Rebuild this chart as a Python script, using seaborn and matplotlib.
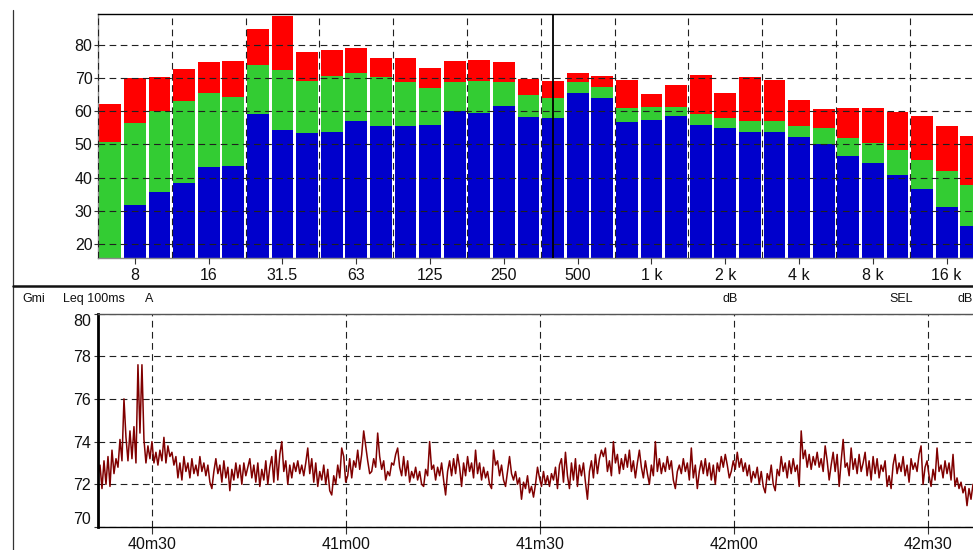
import numpy as np
import matplotlib
matplotlib.use("Agg")
import matplotlib.pyplot as plt
import seaborn as sns
from matplotlib.lines import Line2D
from matplotlib.ticker import FuncFormatter

# ---------------- data ----------------
bands = ['6.3', '8', '10', '12.5', '16', '20', '25', '31.5', '40', '50', '63', '80',
         '100', '125', '160', '200', '250', '315', '400', '500', '630', '800',
         '1k', '1.25k', '1.6k', '2k', '2.5k', '3.15k', '4k', '5k', '6.3k', '8k',
         '10k', '12.5k', '16k', '20k']
spec_max = [62.2, 70.0, 70.3, 72.8, 74.9, 75.2, 84.8, 88.7, 77.9, 78.5, 79.1, 76.1,
            76.1, 73.1, 75.2, 75.5, 74.9, 69.7, 69.1, 71.5, 70.6, 69.4,
            65.2, 67.9, 70.9, 65.5, 70.3, 69.4, 63.4, 60.7, 61.0, 61.0,
            59.8, 58.6, 55.6, 52.6]
spec_mid = [50.8, 56.5, 60.1, 63.1, 65.5, 64.3, 74.0, 72.5, 69.1, 70.6, 71.5, 70.3,
            68.8, 67.0, 68.8, 69.1, 68.8, 64.9, 64.0, 68.8, 67.3, 61.0,
            61.3, 61.3, 59.2, 58.0, 57.1, 57.1, 55.6, 55.0, 52.0, 50.4,
            48.3, 45.3, 42.0, 37.8]
spec_min = [14.0, 31.8, 35.7, 38.4, 43.2, 43.5, 59.2, 54.4, 53.5, 53.8, 57.1, 55.6,
            55.6, 55.9, 60.1, 59.5, 61.6, 58.3, 58.0, 65.5, 64.0, 56.8,
            57.4, 58.6, 55.9, 55.0, 53.8, 53.8, 52.3, 50.1, 46.5, 44.4,
            40.8, 36.6, 31.2, 25.4]
spec_ticks = ['8', '16', '31.5', '63', '125', '250', '500', '1k', '2k', '4k', '8k', '16k']
spec_tick_labels = ['8', '16', '31.5', '63', '125', '250', '500', '1 k', '2 k', '4 k', '8 k', '16 k']
cursor_band = '400'

t_start, t_end = 2421.6, 2557.0   # seconds (40m21.6 .. 42m37)
time_ticks = [2430, 2460, 2490, 2520, 2550]

lvl_a = [72.4, 72.9, 71.8, 73.1, 72.0, 73.3, 71.9, 73.6, 72.5, 73.2, 72.8, 74.1, 73.1,
         76.0, 74.2, 73.1, 74.5, 73.2, 74.7, 73.0, 77.6, 74.4, 77.6, 74.1, 73.0, 73.8,
         73.2, 74.0, 73.0, 73.5, 72.9, 73.6, 73.1, 74.2, 73.0, 73.8, 73.3, 73.5, 72.9,
         73.3, 72.3, 73.0, 72.2, 73.3, 72.6, 73.0, 72.3, 73.2, 72.5, 72.9, 72.4, 73.3,
         72.6, 73.0, 72.4, 72.9, 72.1, 71.8, 72.6, 73.2, 72.5, 72.9, 72.1, 73.1, 72.3,
         72.8, 71.7, 72.7, 72.2, 73.0, 72.3, 72.9, 72.0, 73.0, 72.4]
lvl_b = [72.8, 73.2, 72.3, 72.9, 72.1, 73.0, 71.9, 72.7, 72.2, 73.1, 72.0, 72.8, 73.3,
         72.1, 73.6, 72.2, 73.4, 74.0, 72.6, 73.1, 72.0, 72.9, 72.3, 73.0, 72.6, 73.1,
         72.5, 72.9, 72.4, 73.0, 73.7, 72.5, 73.2, 72.1, 73.0, 71.9, 72.6, 72.2, 72.9,
         72.0, 72.7, 71.7, 71.5, 72.4, 72.0, 72.9, 72.3, 73.7, 73.3, 72.1, 72.4, 73.2,
         72.3, 73.1, 72.8, 73.6, 72.7, 73.4, 74.5, 73.8, 73.1, 72.5, 72.6, 73.2, 72.8,
         74.4, 73.3, 72.7, 73.1, 72.2, 72.6, 72.4, 73.0]
lvl_c = [72.9, 73.4, 73.7, 72.8, 72.4, 73.3, 72.4, 73.1, 72.1, 72.6, 72.3, 72.8, 72.2,
         72.6, 72.0, 71.9, 72.7, 72.4, 74.0, 72.7, 72.9, 72.2, 72.8, 72.4, 73.0, 72.2,
         71.5, 72.6, 73.1, 72.4, 73.2, 72.5, 73.4, 72.8, 71.9, 73.0, 72.4, 73.3, 72.6,
         73.0, 72.3, 73.6, 72.5, 73.0, 72.2, 72.8, 72.3, 72.6, 72.0, 71.8, 73.6, 72.9,
         73.1, 72.4, 72.9, 72.2, 71.9, 72.6, 73.3, 72.5, 72.2, 72.6, 72.0, 72.3, 71.3,
         72.1, 71.8, 72.4, 71.6, 71.9, 71.4, 72.0, 72.8]
lvl_d = [72.3, 71.9, 72.6, 72.0, 72.4, 71.9, 72.5, 72.2, 72.8, 71.8, 72.9, 73.2, 72.1,
         73.5, 72.4, 71.8, 73.0, 72.2, 73.2, 71.9, 72.9, 72.4, 73.0, 72.1, 71.3, 72.6,
         73.1, 72.3, 73.4, 72.5, 73.2, 73.6, 73.3, 73.7, 72.6, 73.1, 72.4, 74.0, 73.0,
         73.4, 72.5, 73.2, 72.7, 73.4, 72.8, 73.6, 72.6, 73.1, 72.3, 73.0, 73.6, 72.8,
         72.3, 73.1, 72.5, 72.0, 72.9, 72.4, 74.0, 72.6, 73.2, 72.5, 73.0, 72.6, 73.3,
         72.7, 73.1, 72.2, 71.8, 72.6, 72.9, 72.5, 73.2]
lvl_e = [72.6, 73.0, 72.2, 73.7, 72.3, 72.9, 71.8, 72.6, 73.1, 72.5, 73.2, 72.4, 73.0,
         72.2, 72.9, 72.0, 73.0, 72.6, 73.3, 72.8, 73.4, 72.9, 72.3, 72.6, 73.1, 72.7,
         73.5, 72.8, 73.2, 72.6, 73.0, 72.4, 72.9, 72.1, 72.6, 72.3, 72.8, 72.0, 72.6,
         71.9, 71.6, 72.5, 72.2, 72.9, 72.0, 71.7, 72.7, 72.4, 73.3, 72.6, 73.0, 72.3,
         73.1, 72.5, 73.2, 72.6, 72.9, 71.9, 74.5, 73.2, 73.6, 72.8, 73.4, 72.7, 73.3,
         72.9, 73.5, 72.8, 73.2, 72.6, 73.8, 73.1, 72.2]
lvl_f = [72.9, 73.5, 72.6, 73.4, 71.9, 73.1, 74.1, 72.8, 73.0, 72.4, 73.7, 72.7, 73.2,
         72.5, 73.4, 72.6, 73.0, 73.5, 72.4, 73.1, 72.2, 73.3, 72.5, 73.2, 72.3, 72.9,
         72.6, 73.1, 71.9, 72.4, 71.8, 72.9, 73.4, 72.5, 73.0, 72.6, 73.3, 72.4, 72.9,
         72.1, 73.2, 72.7, 73.0, 72.6, 73.4, 73.8, 72.0, 72.8, 73.1, 72.4, 71.9, 72.7,
         72.2, 73.7, 72.6, 72.9, 72.3, 73.1, 72.5, 73.0, 72.2, 73.4, 71.9, 72.3, 71.8,
         72.1, 71.6, 71.9, 71.0, 71.8, 71.3, 72.0]

levels = np.array(lvl_a + lvl_b + lvl_c + lvl_d + lvl_e + lvl_f)
times = np.linspace(t_start, t_end, len(levels))

# ---------------- style ----------------
sns.set_theme(style="white")
plt.rcParams['font.family'] = ['Liberation Sans', 'DejaVu Sans']
plt.rcParams['text.color'] = '#111111'
plt.rcParams['xtick.color'] = '#333333'
plt.rcParams['ytick.color'] = '#333333'
plt.rcParams['xtick.labelcolor'] = '#111111'
plt.rcParams['ytick.labelcolor'] = '#111111'

W, H = 973, 550
fig = plt.figure(figsize=(W / 100, H / 100), dpi=100)


def fbox(x0, y0, x1, y1):
    return [x0 / W, 1 - y1 / H, (x1 - x0) / W, (y1 - y0) / H]


grid_kw = dict(color='#202020', linestyle=(0, (6, 4)), linewidth=0.8)

# ---------------- top: spectrum ----------------
ax1 = fig.add_axes(fbox(98, 14, 973, 258))
for vals, col in [(spec_max, '#ff0000'), (spec_mid, '#33cc33'), (spec_min, '#0000cc')]:
    sns.barplot(x=bands, y=vals, order=bands, color=col, width=0.88,
                linewidth=0, errorbar=None, saturation=1, ax=ax1)
ax1.set_xlim(-0.5, 35.07)
ax1.set_ylim(15.8, 89.3)
ax1.set_yticks([20, 30, 40, 50, 60, 70, 80])
ax1.set_xticks([bands.index(b) for b in spec_ticks])
ax1.set_xticklabels(spec_tick_labels)
ax1.set_xticks([i - 0.5 for i in range(0, len(bands), 3)], minor=True)
ax1.set_xlabel('')
ax1.set_ylabel('')
ax1.set_axisbelow(False)
ax1.grid(False)
ax1.grid(True, which='minor', axis='x', **grid_kw)
ax1.grid(True, which='major', axis='y', **grid_kw)
ax1.tick_params(axis='x', which='major', length=4, width=0.8, pad=3, labelsize=11.5,
                direction='out', bottom=True)
ax1.tick_params(axis='x', which='minor', length=0)
ax1.tick_params(axis='y', length=3, width=0.8, pad=1, labelsize=11.5, direction='out', left=True)
ax1.axvline(bands.index(cursor_band), color='black', linewidth=1.3, zorder=4)
ax1.spines['top'].set_color('black')
ax1.spines['top'].set_linewidth(1)
ax1.spines['bottom'].set_color('#8a8a8a')
ax1.spines['bottom'].set_linewidth(1)
ax1.spines['left'].set_color('#8a8a8a')
ax1.spines['left'].set_linewidth(1)
ax1.spines['right'].set_visible(False)

# ---------------- bottom: time history ----------------
ax2 = fig.add_axes(fbox(98, 313.5, 973, 527))
sns.lineplot(x=times, y=levels, color='#800000', linewidth=1.1, estimator=None, ax=ax2)
ax2.set_xlim(t_start, t_end)
ax2.set_ylim(70, 80)
ax2.set_yticks([70, 72, 74, 76, 78, 80])
ax2.set_xticks(time_ticks)
ax2.xaxis.set_major_formatter(FuncFormatter(lambda v, p: f"{int(v // 60)}m{int(round(v % 60)):02d}"))
ax2.set_xlabel('')
ax2.set_ylabel('')
ax2.grid(False)
ax2.grid(True, which='major', axis='both', **grid_kw)
ax2.tick_params(axis='x', length=5, width=0.8, pad=2, labelsize=11.5, direction='out', bottom=True)
ax2.tick_params(axis='y', length=3, width=0.8, pad=2, labelsize=11.5, direction='out', left=True)
ylabs = ax2.get_yticklabels()
ylabs[0].set_verticalalignment('bottom')
ylabs[-1].set_verticalalignment('top')
ax2.spines['left'].set_color('black')
ax2.spines['left'].set_linewidth(2)
ax2.spines['bottom'].set_color('black')
ax2.spines['bottom'].set_linewidth(1)
ax2.spines['top'].set_color('#555555')
ax2.spines['top'].set_linewidth(1)
ax2.spines['right'].set_visible(False)

# ---------------- frame & header ----------------
fig.add_artist(Line2D([13 / W, 13 / W], [1 - 10 / H, 0], color='#333333', linewidth=0.9))
fig.add_artist(Line2D([13 / W, 1], [1 - 286 / H, 1 - 286 / H], color='#111111', linewidth=1.8))
hy = 1 - 299 / H
fig.text(22 / W, hy, 'Gmi', fontsize=9, va='center', ha='left')
fig.text(63 / W, hy, 'Leq 100ms', fontsize=9, va='center', ha='left')
fig.text(145 / W, hy, 'A', fontsize=9, va='center', ha='left')
fig.text(730 / W, hy, 'dB', fontsize=9, va='center', ha='center')
fig.text(901 / W, hy, 'SEL', fontsize=9, va='center', ha='center')
fig.text(958 / W, hy, 'dB', fontsize=9, va='center', ha='left')

fig.savefig('out.png', dpi=100)
